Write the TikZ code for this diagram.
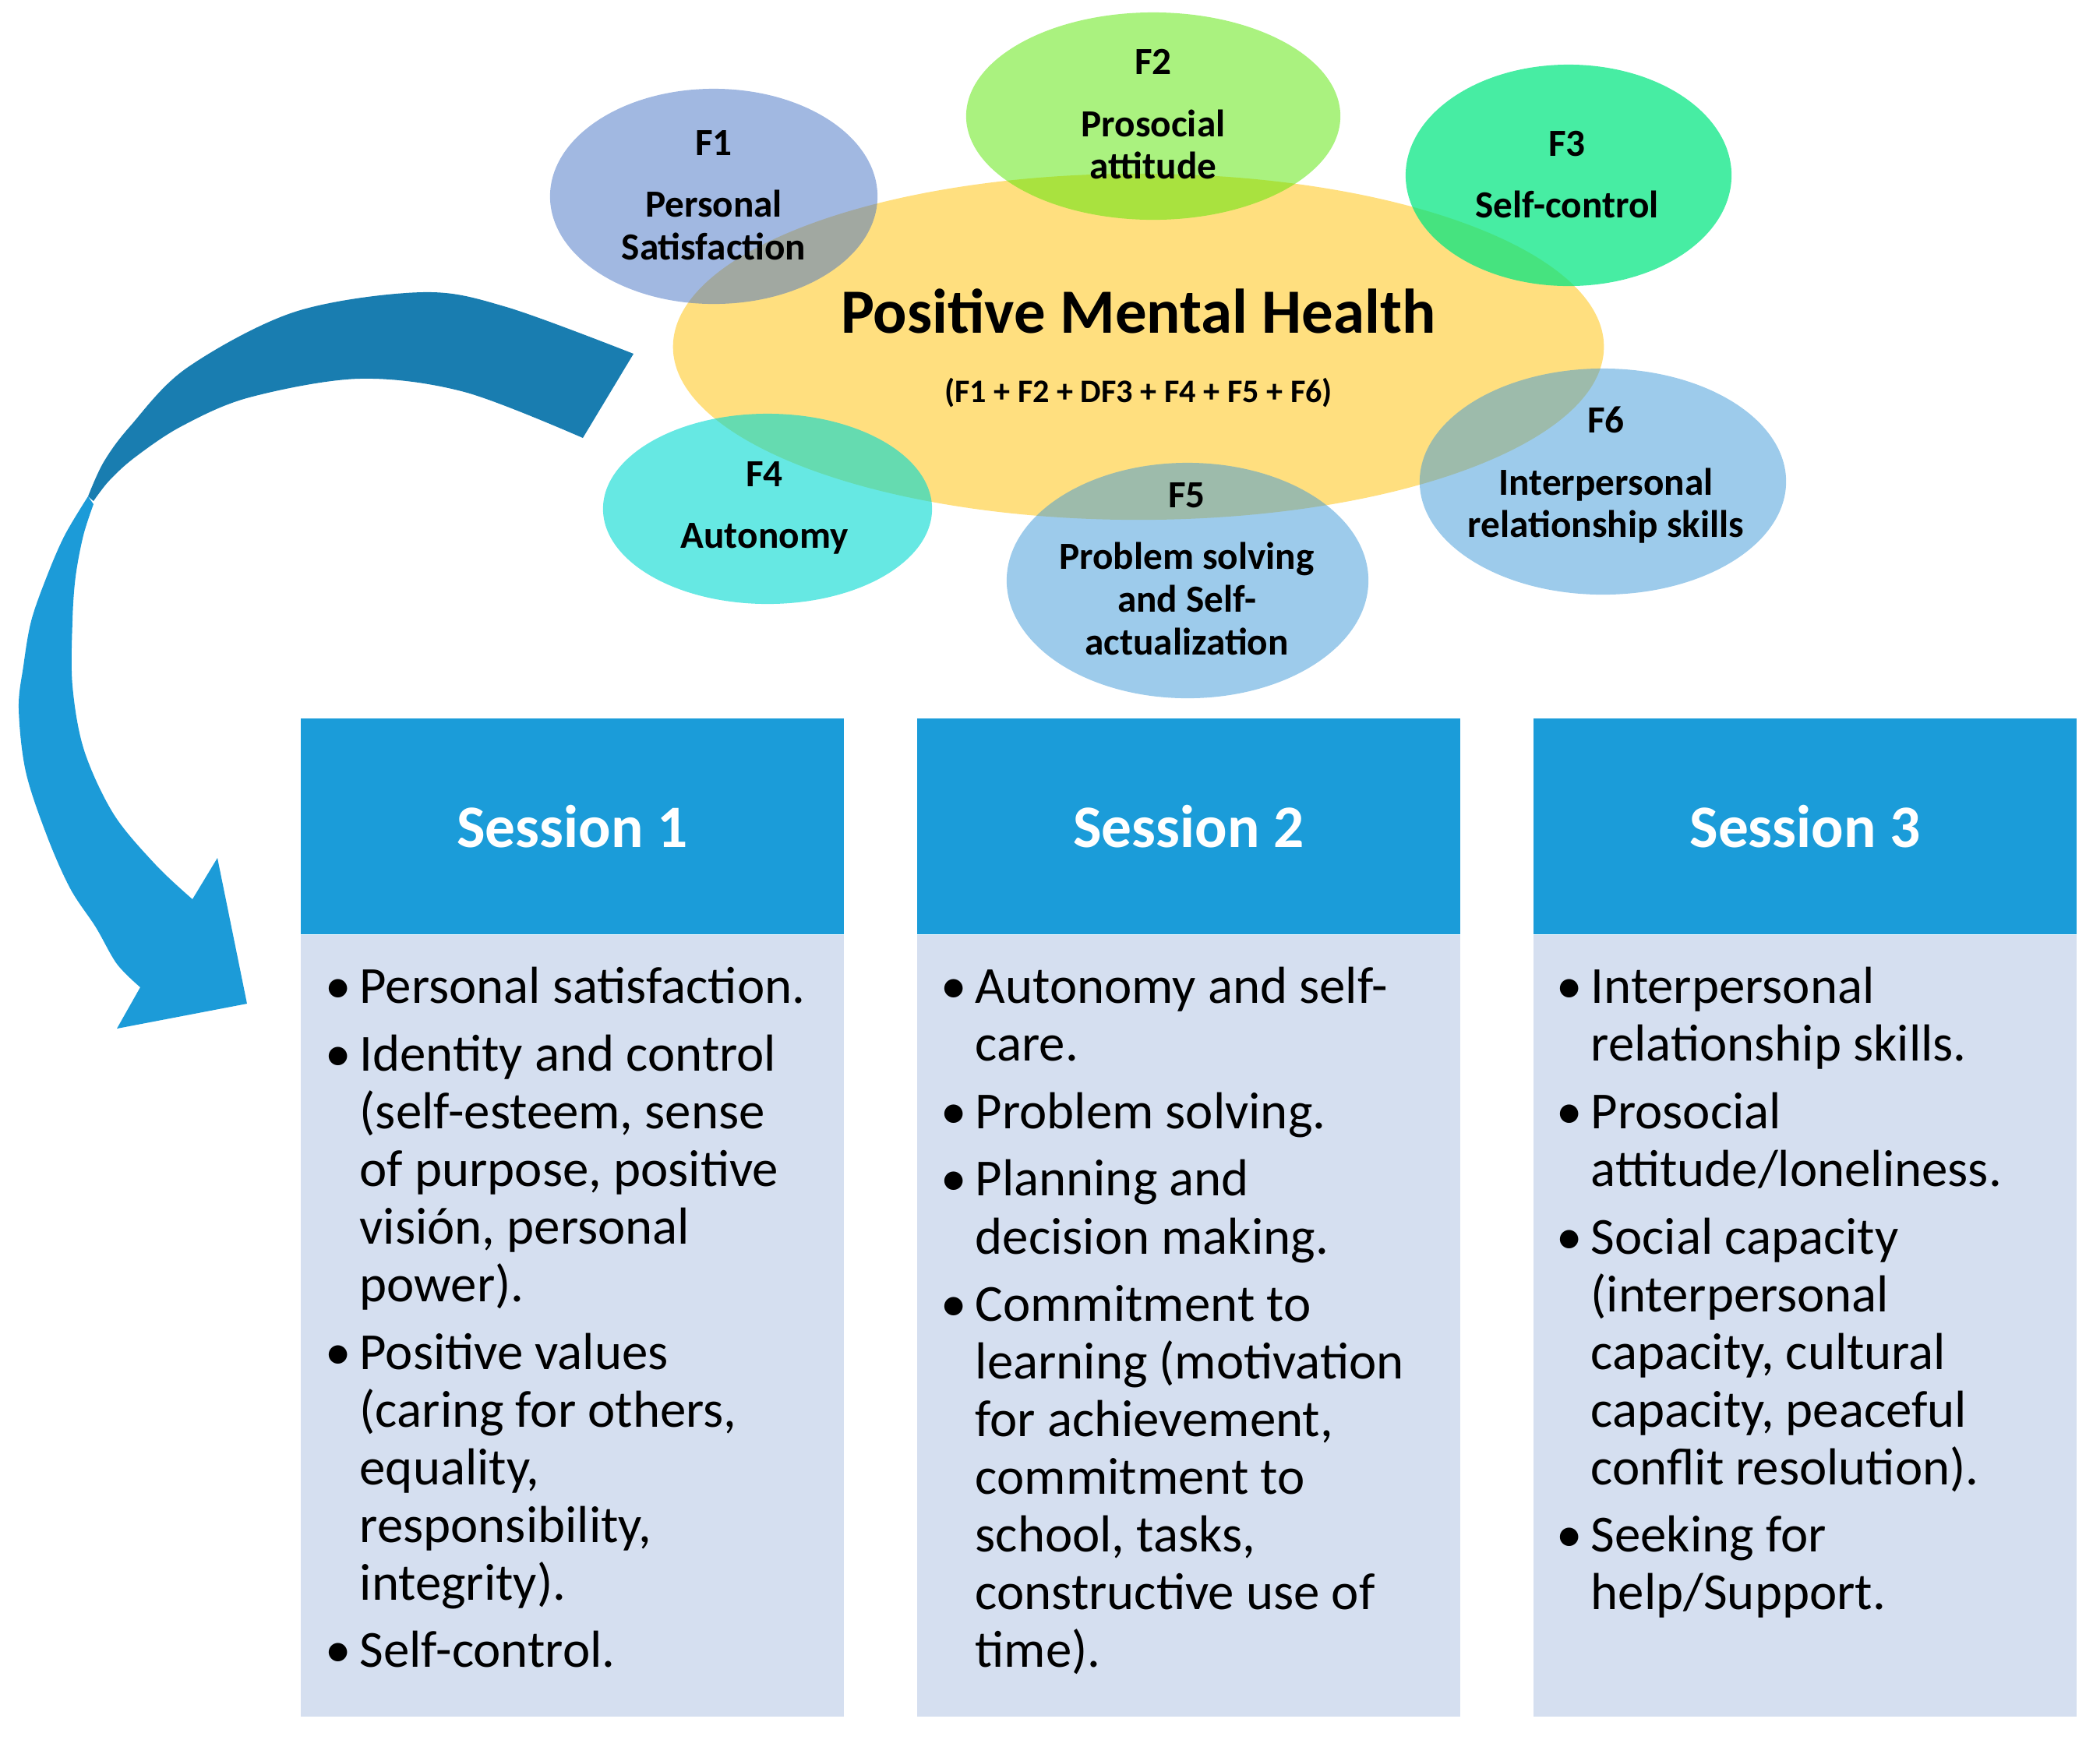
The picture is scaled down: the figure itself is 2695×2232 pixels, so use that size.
\documentclass[tikz,border=0pt]{standalone}
\usepackage{fontspec}
\setmainfont{Carlito}
\usetikzlibrary{shapes.geometric,calc}
\definecolor{yelc}{HTML}{FFC000}
\definecolor{fonec}{HTML}{4472C4}
\definecolor{ftwoc}{HTML}{55E600}
\definecolor{fthreec}{HTML}{00E680}
\definecolor{ffourc}{HTML}{00D9D0}
\definecolor{fblc}{HTML}{3C98D8}
\definecolor{hdrblue}{HTML}{1B9CD9}
\definecolor{bodyblue}{HTML}{D5DFF0}
\definecolor{arrdark}{HTML}{197DB0}
\definecolor{arrlight}{HTML}{1C9BD8}
\begin{document}
\begin{tikzpicture}[x=0.01cm,y=-0.01cm,
  ell/.style={ellipse, inner sep=0pt, draw=none},
  lbl/.style={font=\fontsize{14}{15.6}\selectfont\bfseries, align=center, inner sep=0pt},
  hdr/.style={fill=hdrblue, text=white, font=\fontsize{22}{26}\selectfont\bfseries,
    minimum width=6.97cm, minimum height=2.77cm, anchor=north west, inner sep=0pt},
  bodybox/.style={fill=bodyblue, minimum width=6.97cm, minimum height=10.02cm,
    anchor=north west, inner sep=0pt},
  items/.style={anchor=base west, inner sep=0pt, font=\fontsize{19}{21.05}\selectfont}]
\useasboundingbox (0,0) rectangle (2695,2232);

% curved arrow: front (light) part with head
\fill[arrlight] plot[smooth, tension=0.55] coordinates {(113,637) (83,687) (60,740) (40,797) (30,855) (24,909) (33,990) (60,1072) (90,1140) (123,1190) (150,1237) (180,1267)}
  -- (150,1320) -- (317,1288) -- (279,1101)
  -- plot[smooth, tension=0.55] coordinates {(247,1154) (200,1110) (146,1045) (108,963) (93,880) (93,797) (97,740) (107,687) (120,647)} -- cycle;
% back (dark) part with tail
\fill[arrdark] plot[smooth, tension=0.55] coordinates {(813,454) (650,394) (542,375) (379,400) (240,472) (167,547) (133,593) (113,637)}
  -- plot[smooth, tension=0.55] coordinates {(120,643) (140,617) (173,587) (233,547) (320,510) (461,486) (596,503) (748,562)} -- cycle;

% ellipses
\node[ell, fill=yelc, fill opacity=0.5, minimum width=11.94cm, minimum height=4.44cm] (pmh) at (1461,445) {};
\node[ell, fill=fonec, fill opacity=0.5, minimum width=4.2cm, minimum height=2.76cm] (f1) at (916,252) {};
\node[ell, fill=ftwoc, fill opacity=0.5, minimum width=4.8cm, minimum height=2.66cm] (f2) at (1480,149) {};
\node[ell, fill=fthreec, fill opacity=0.72, minimum width=4.18cm, minimum height=2.84cm] (f3) at (2013,225) {};
\node[ell, fill=ffourc, fill opacity=0.6, minimum width=4.22cm, minimum height=2.44cm] (f4) at (985,653) {};
\node[ell, fill=fblc, fill opacity=0.5, minimum width=4.64cm, minimum height=3.02cm] (f5) at (1524,745) {};
\node[ell, fill=fblc, fill opacity=0.5, minimum width=4.7cm, minimum height=2.9cm] (f6) at (2057,618) {};

% ellipse texts
\node[inner sep=0pt, font=\fontsize{23}{26}\selectfont\bfseries] (title) at (1461,399) {Positive Mental Health};
\node[inner sep=0pt, font=\fontsize{12}{14}\selectfont\bfseries] (formula) at (1461,504) {(F1 + F2 + DF3 + F4 + F5 + F6)};
\node[lbl] (t1) at (916,251) {F1\\[6.9pt]Personal\\Satisfaction};
\node[lbl] (t2) at (1480,147) {F2\\[6.9pt]Prosocial\\attitude};
\node[lbl] (t3) at (2011,224) {F3\\[6.9pt]Self-control};
\node[lbl] (t4) at (981,652) {F4\\[6.9pt]Autonomy};
\node[lbl] (t5) at (1523,730) {F5\\[6.9pt]Problem solving\\and Self-\\actualization};
\node[lbl] (t6) at (2061,610) {F6\\[6.9pt]Interpersonal\\relationship skills};

% session boxes
\node[hdr] (h1) at (385,921) {Session 1};
\node[hdr] (h2) at (1176,921) {Session 2};
\node[hdr] (h3) at (1967,921) {Session 3};
\node[bodybox] (b1) at (h1.south west) {};
\node[bodybox] (b2) at (h2.south west) {};
\node[bodybox] (b3) at (h3.south west) {};

\node[items] (l1) at ($(b1.north west)+(76,88)$) {\begin{tabular}[t]{@{}l@{}}
\llap{\textbullet\hspace{3pt}}Personal satisfaction.\\[3.6pt]
\llap{\textbullet\hspace{3pt}}Identity and control\\
(self-esteem, sense\\
of purpose, positive\\
visión, personal\\
power).\\[3.6pt]
\llap{\textbullet\hspace{3pt}}Positive values\\
(caring for others,\\
equality,\\
responsibility,\\
integrity).\\[3.6pt]
\llap{\textbullet\hspace{3pt}}Self-control.
\end{tabular}};

\node[items] (l2) at ($(b2.north west)+(75,88)$) {\begin{tabular}[t]{@{}l@{}}
\llap{\textbullet\hspace{3pt}}Autonomy and self-\\
care.\\[3.6pt]
\llap{\textbullet\hspace{3pt}}Problem solving.\\[3.6pt]
\llap{\textbullet\hspace{3pt}}Planning and\\
decision making.\\[3.6pt]
\llap{\textbullet\hspace{3pt}}Commitment to\\
learning (motivation\\
for achievement,\\
commitment to\\
school, tasks,\\
constructive use of\\
time).
\end{tabular}};

\node[items] (l3) at ($(b3.north west)+(74,88)$) {\begin{tabular}[t]{@{}l@{}}
\llap{\textbullet\hspace{3pt}}Interpersonal\\
relationship skills.\\[3.6pt]
\llap{\textbullet\hspace{3pt}}Prosocial\\
attitude/loneliness.\\[3.6pt]
\llap{\textbullet\hspace{3pt}}Social capacity\\
(interpersonal\\
capacity, cultural\\
capacity, peaceful\\
conflit resolution).\\[3.6pt]
\llap{\textbullet\hspace{3pt}}Seeking for\\
help/Support.
\end{tabular}};
\end{tikzpicture}
\end{document}
